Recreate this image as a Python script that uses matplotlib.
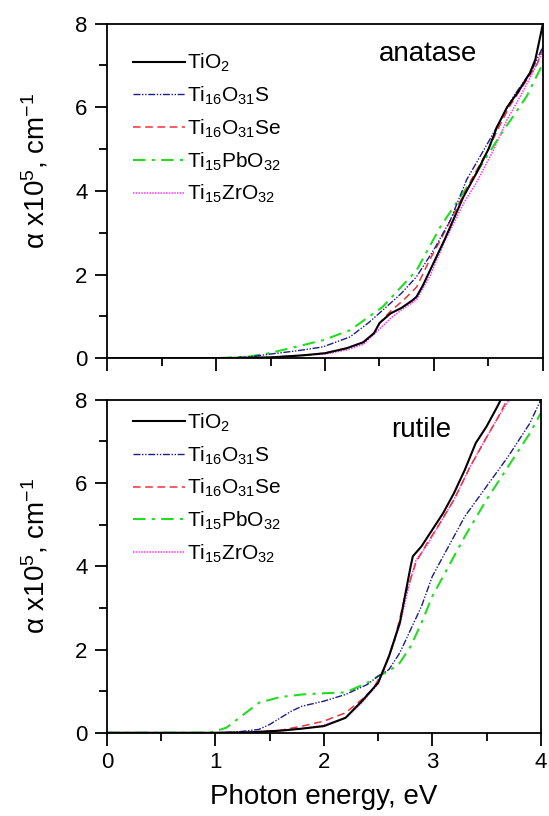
import numpy as np
import matplotlib
matplotlib.use("Agg")
from matplotlib import pyplot as plt
from matplotlib.ticker import MultipleLocator

plt.rcParams['font.family'] = ['Liberation Sans', 'DejaVu Sans']
plt.rcParams['mathtext.fontset'] = 'custom'
plt.rcParams['mathtext.rm'] = 'Liberation Sans'
plt.rcParams['mathtext.it'] = 'Liberation Sans:italic'
plt.rcParams['mathtext.default'] = 'regular'

labels = ['TiO$_2$', 'Ti$_{16}$O$_{31}$S', 'Ti$_{16}$O$_{31}$Se',
          'Ti$_{15}$PbO$_{32}$', 'Ti$_{15}$ZrO$_{32}$']

# anatase
an_tio2_e = [0, 1.0, 1.5, 1.8, 2.0, 2.2, 2.35, 2.45, 2.5, 2.6, 2.7, 2.8, 2.84, 2.9, 3.0, 3.1, 3.27, 3.39,
             3.5, 3.58, 3.67, 3.78, 3.88, 3.93, 4.0]
an_tio2_a = [0, 0.0, 0.02, 0.07, 0.12, 0.24, 0.38, 0.6, 0.84, 1.07, 1.2, 1.38, 1.47, 1.75, 2.3, 2.85, 3.86, 4.43,
             5.0, 5.54, 6.0, 6.4, 6.82, 7.14, 8.0]
an_s_e = [0, 1.0, 1.3, 1.5, 1.75, 1.98, 2.23, 2.4, 2.53, 2.7, 2.84, 3.0, 3.15, 3.3, 3.51, 3.73, 3.9, 4.0]
an_s_a = [0, 0, 0.03, 0.1, 0.18, 0.27, 0.51, 0.85, 1.15, 1.55, 1.95, 2.6, 3.3, 4.27, 5.22, 6.26, 6.9, 7.45]
an_se_e = [0, 1.0, 1.5, 1.8, 2.0, 2.2, 2.35, 2.45, 2.5, 2.6, 2.72, 2.84, 2.96, 3.06, 3.2, 3.35, 3.5, 3.6,
           3.7, 3.85, 3.95, 4.0]
an_se_a = [0, 0, 0.02, 0.07, 0.12, 0.24, 0.38, 0.6, 0.84, 1.12, 1.39, 1.7, 2.35, 2.83, 3.55, 4.3, 5.0, 5.55,
           6.05, 6.65, 7.05, 7.45]
an_pb_e = [0, 1.0, 1.3, 1.45, 1.7, 1.98, 2.23, 2.53, 2.84, 3.06, 3.39, 3.6, 3.85, 4.0]
an_pb_a = [0, 0, 0.04, 0.1, 0.25, 0.43, 0.67, 1.23, 2.1, 3.15, 4.43, 5.3, 6.26, 7.05]
an_zr_e = [0, 1.0, 1.5, 2.0, 2.2, 2.35, 2.5, 2.6, 2.7, 2.84, 2.96, 3.1, 3.27, 3.39, 3.55, 3.67, 3.8, 3.9, 4.0]
an_zr_a = [0, 0, 0.02, 0.1, 0.2, 0.33, 0.7, 0.95, 1.15, 1.4, 1.95, 2.8, 3.7, 4.2, 5.0, 5.7, 6.3, 6.8, 7.35]

# rutile
ru_tio2_e = [0, 1.0, 1.3, 1.6, 1.8, 2.0, 2.2, 2.35, 2.5, 2.6, 2.7, 2.8, 2.82, 2.9, 3.0, 3.1, 3.2, 3.3,
             3.4, 3.5, 3.6, 3.65]
ru_tio2_a = [0, 0, 0.01, 0.05, 0.1, 0.16, 0.36, 0.76, 1.2, 1.84, 2.64, 4.0, 4.24, 4.48, 4.88, 5.28, 5.76, 6.32,
             6.96, 7.36, 7.84, 8.1]
ru_s_e = [0, 1.0, 1.2, 1.4, 1.5, 1.6, 1.7, 1.8, 2.0, 2.2, 2.4, 2.5, 2.6, 2.7, 2.8, 2.9, 3.0, 3.1, 3.2, 3.3,
          3.5, 3.7, 3.9, 4.0]
ru_s_a = [0, 0, 0.02, 0.08, 0.2, 0.36, 0.52, 0.64, 0.76, 0.92, 1.16, 1.36, 1.52, 1.92, 2.48, 3.04, 3.76, 4.24,
          4.72, 5.2, 5.92, 6.64, 7.44, 8.0]
ru_se_e = [0, 1.0, 1.3, 1.6, 1.8, 2.0, 2.2, 2.35, 2.45, 2.55, 2.65, 2.75, 2.85, 2.95, 3.05, 3.2, 3.35, 3.5,
           3.6, 3.7]
ru_se_a = [0, 0, 0.01, 0.06, 0.16, 0.28, 0.48, 0.8, 1.04, 1.5, 2.2, 3.3, 4.1, 4.55, 4.95, 5.6, 6.4, 7.1,
           7.55, 8.05]
ru_pb_e = [0, 0.95, 1.1, 1.2, 1.4, 1.6, 1.8, 2.0, 2.2, 2.4, 2.5, 2.6, 2.7, 2.8, 2.9, 3.0, 3.1, 3.3, 3.5,
           3.7, 3.9, 4.0]
ru_pb_a = [0, 0, 0.12, 0.32, 0.72, 0.86, 0.92, 0.95, 0.97, 1.2, 1.36, 1.48, 1.68, 2.08, 2.64, 3.28, 3.76,
           4.72, 5.6, 6.4, 7.2, 7.68]
ru_zr_e = [0, 1.0, 1.4, 1.8, 2.0, 2.2, 2.35, 2.5, 2.6, 2.7, 2.8, 2.85, 2.95, 3.05, 3.2, 3.35, 3.5, 3.6, 3.72]
ru_zr_a = [0, 0, 0.02, 0.1, 0.18, 0.36, 0.72, 1.18, 1.8, 2.6, 3.7, 4.15, 4.5, 4.95, 5.6, 6.4, 7.1, 7.55, 8.05]

colors = ['black', '#1c1c8a', '#e8343c', '#22dd22', '#ff33ff']
styles = ['-', (0, (5, 1.2, 1, 1.2, 1, 1.2)), (0, (5, 3)), (0, (6, 3, 1.5, 3)), (0, (1, 0.8))]
widths = [1.5, 1.0, 1.1, 1.5, 1.1]

panels = [
    ('anatase', [(an_tio2_e, an_tio2_a), (an_s_e, an_s_a), (an_se_e, an_se_a),
                 (an_pb_e, an_pb_a), (an_zr_e, an_zr_a)]),
    ('rutile', [(ru_tio2_e, ru_tio2_a), (ru_s_e, ru_s_a), (ru_se_e, ru_se_a),
                (ru_pb_e, ru_pb_a), (ru_zr_e, ru_zr_a)]),
]

fig = plt.figure(figsize=(5.49, 8.16), dpi=100)
boxes = [[0.195, 0.561, 0.794, 0.410], [0.195, 0.102, 0.79, 0.408]]
leg_y = [0.94, 0.99]
text_x = [2.95, 2.9]
ylab_y = [0.56, 0.53]

for i, (name, series) in enumerate(panels):
    ax = fig.add_axes(boxes[i])
    # draw in reverse so black sits on top
    for j in reversed(range(5)):
        e, a = series[j]
        ax.plot(e, a, color=colors[j], linestyle=styles[j], lw=widths[j], label=labels[j])
    ax.set_xlim(0, 4)
    ax.set_ylim(0, 8)
    ax.xaxis.set_major_locator(MultipleLocator(1))
    ax.xaxis.set_minor_locator(MultipleLocator(0.5))
    ax.yaxis.set_major_locator(MultipleLocator(2))
    ax.yaxis.set_minor_locator(MultipleLocator(1))
    ax.tick_params(which='major', direction='out', length=9, width=1.3, labelsize=16, pad=5)
    ax.tick_params(which='minor', direction='out', length=6, width=1.3)
    for s in ax.spines.values():
        s.set_linewidth(1.3)
    ax.set_ylabel('α x10$^5$, cm$^{-1}$', fontsize=20)
    ax.yaxis.set_label_coords(-0.13, ylab_y[i])
    h, l = ax.get_legend_handles_labels()
    ax.legend(h[::-1], l[::-1], loc='upper left', bbox_to_anchor=(0.04, leg_y[i]), frameon=False,
              fontsize=15, handlelength=2.5, handletextpad=0.1, labelspacing=0.5, borderaxespad=0)
    ax.text(text_x[i], 7.28, name, fontsize=20, ha='center', va='center')
    if i == 0:
        ax.tick_params(labelbottom=False)
    else:
        ax.set_xlabel('Photon energy, eV', fontsize=20, labelpad=8)

plt.savefig('out.png', dpi=100)
